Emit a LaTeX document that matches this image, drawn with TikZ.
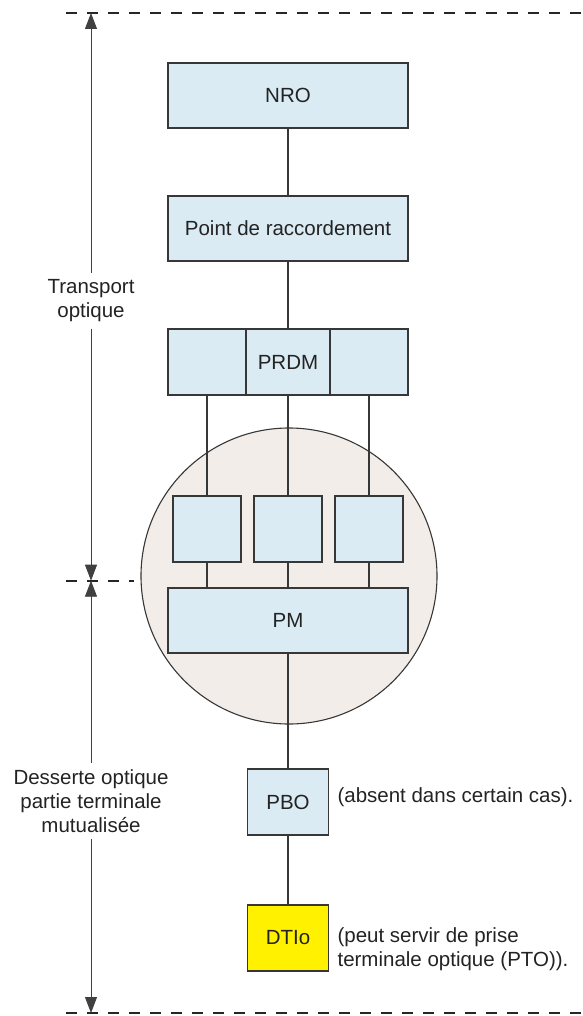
\documentclass[tikz,border=0pt]{standalone}
\usepackage{fontspec}
\setmainfont{Liberation Sans}
\usetikzlibrary{arrows.meta}

\definecolor{boxblue}{RGB}{218,235,243}
\definecolor{zonebeige}{RGB}{242,237,233}
\definecolor{dtiyellow}{RGB}{255,241,0}
\definecolor{linegray}{RGB}{55,55,55}
\definecolor{textgray}{RGB}{35,35,35}

\begin{document}
\begin{tikzpicture}[x=1pt, y=-1pt, line width=1.1pt, draw=linegray,
  every node/.style={font=\fontsize{20.5}{24}\selectfont, text=textgray},
  box/.style={draw=linegray, fill=boxblue, inner sep=0pt},
  zone/.style={circle, draw=linegray, fill=zonebeige, minimum size=296, inner sep=0pt},
  limit/.style={line width=2.2pt, draw=black!85, dash pattern=on 11pt off 10pt},
  span/.style={line width=0.9pt, draw=black!75},
  >={Triangle[length=16pt,width=12pt]}]
  \useasboundingbox (0,0) rectangle (582,1016);

  % zone of the PM, behind everything
  \node[zone] (zone) at (289,576) {};

  \node[box, minimum width=240, minimum height=65] (nro) at (288,95.5) {NRO};
  \node[box, minimum width=240, minimum height=65] (pr) at (288,228.5) {Point de raccordement};

  \node[box, minimum width=78, minimum height=66] (prdm1) at (207,362) {};
  \node[box, minimum width=83, minimum height=66] (prdm2) at (288,362) {PRDM};
  \node[box, minimum width=78, minimum height=66] (prdm3) at (369,362) {};

  \foreach \i/\x in {1/207,2/288,3/369}
    \node[box, minimum width=68, minimum height=66] (s\i) at (\x,529) {};

  \node[box, minimum width=240, minimum height=65] (pm) at (288,620.5) {PM};
  \node[box, minimum width=81, minimum height=66] (pbo) at (288,802) {PBO};
  \node[box, fill=dtiyellow, minimum width=81, minimum height=66] (dtio) at (288,938) {DTIo};

  \node[anchor=west, inner sep=0pt] (absent) at (337,797) {(absent dans certain cas).};
  \node[anchor=west, align=left, inner sep=0pt] (pto) at (337,949)
    {(peut servir de prise\\terminale optique (PTO)).};

  % fibre links
  \draw (nro) -- (pr);
  \draw (pr) -- (prdm2);
  \foreach \i in {1,2,3} {
    \draw (prdm\i) -- (s\i);
    \draw (s\i) -- (s\i |- pm.north);
  }
  \draw (pm) -- (pbo);
  \draw (pbo) -- (dtio);

  % limits of the two sections
  \draw[limit] (66,13) -- (582,13);
  \draw[limit] (66,580.7) -- (134,580.7);
  \draw[limit] (66,1013) -- (582,1013);

  \coordinate (top) at (91,13);
  \coordinate (mid) at (91,580.7);
  \coordinate (bot) at (91,1013);
  \node[align=center, inner sep=6pt] (transport) at (91,301) {Transport\\optique};
  \node[align=center, inner sep=6pt] (desserte) at (91,801)
    {Desserte optique\\partie terminale\\mutualisée};

  \draw[span, <-] (top) -- (transport);
  \draw[span, ->] (transport) -- (mid);
  \draw[span, <-] (mid) -- (desserte);
  \draw[span, ->] (desserte) -- (bot);
\end{tikzpicture}
\end{document}
